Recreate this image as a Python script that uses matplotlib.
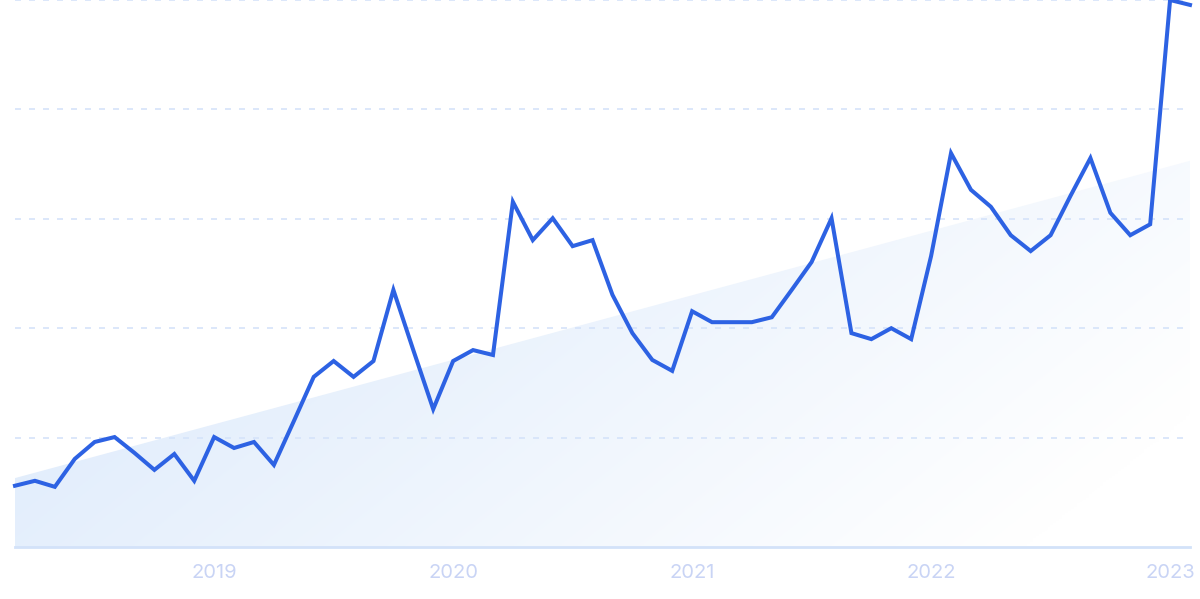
import numpy as np
import pandas as pd
import matplotlib
matplotlib.use("Agg")
import matplotlib.pyplot as plt
from matplotlib.patches import Polygon

# ---- data ----
months = pd.date_range("2018-03-01", periods=60, freq="MS")
values = [11.2, 12.1, 11.0, 16.1, 19.2, 20.1, 17.2, 14.1, 17.0, 12.1,
          20.1, 18.1, 19.2, 15.0, 23.0, 31.1, 34.0, 31.1, 34.0, 47.0,
          36.0, 25.2, 34.0, 36.0, 35.1, 63.1, 56.1, 60.1, 55.0, 56.1,
          46.1, 39.1, 34.2, 32.2, 43.1, 41.1, 41.1, 41.1, 42.0, 47.0,
          52.1, 60.1, 39.1, 38.0, 40.0, 38.0, 53.2, 72.0, 65.3, 62.2,
          57.0, 54.1, 57.0, 64.2, 71.1, 61.1, 57.0, 59.0, 100.0, 99.1]
trend_ends = [12.6, 70.6]
tick_labels = ["2019", "2020", "2021", "2022", "2023"]
grid_values = [20, 40, 60, 80, 100]

x = np.arange(len(values))
tick_pos = [i for i, m in enumerate(months) if m.month == 1]

fig = plt.figure(figsize=(12, 5.99), dpi=100)
ax = fig.add_axes([15 / 1200, 52 / 599, 1175 / 1200, 547 / 599])
ax.set_xlim(x[0], x[-1])
ax.set_ylim(0, 100)

# trend area with gradient fill
trend = np.linspace(trend_ends[0], trend_ends[1], len(values))
ny, nx = 200, 400
gx = np.linspace(0, 1, nx)[None, :]
gy = np.linspace(0, 1, ny)[:, None]  # 0 bottom, 1 top (origin lower)
t = np.clip(0.85 * gx + 0.35 * (1 - gy) - 0.08, 0, 1)
base = np.array([0.86, 0.915, 0.985])
rgba = np.zeros((ny, nx, 4))
rgba[..., 0] = base[0] + (1 - base[0]) * t
rgba[..., 1] = base[1] + (1 - base[1]) * t
rgba[..., 2] = base[2] + (1 - base[2]) * t
rgba[..., 3] = 1.0
im = ax.imshow(rgba, extent=[x[0], x[-1], 0, trend_ends[1]], origin="lower",
               aspect="auto", zorder=1)
poly_pts = np.column_stack([np.r_[x, x[::-1]], np.r_[trend, np.zeros_like(trend)]])
clip = Polygon(poly_pts, closed=True, transform=ax.transData, facecolor="none",
               edgecolor="none")
ax.add_patch(clip)
im.set_clip_path(clip)

# grid lines
for g in grid_values:
    ax.axhline(g, color="#d5e3fa", lw=1.2, ls=(0, (3.6, 4.8)), zorder=2, clip_on=False)
ax.axhline(0, color="#d3e2f9", lw=2, zorder=3, clip_on=False)

ax.plot(x, values, color="#2d62e3", lw=2.9, solid_joinstyle="miter",
        zorder=4, clip_on=False)

for s in ax.spines.values():
    s.set_visible(False)
ax.set_yticks([])
ax.set_xticks(tick_pos)
ax.set_xticklabels(tick_labels, fontsize=14.5, color="#c9d4f5", family="Inter")
ax.tick_params(axis="x", length=0, pad=12)

fig.savefig("out.png", dpi=100)
